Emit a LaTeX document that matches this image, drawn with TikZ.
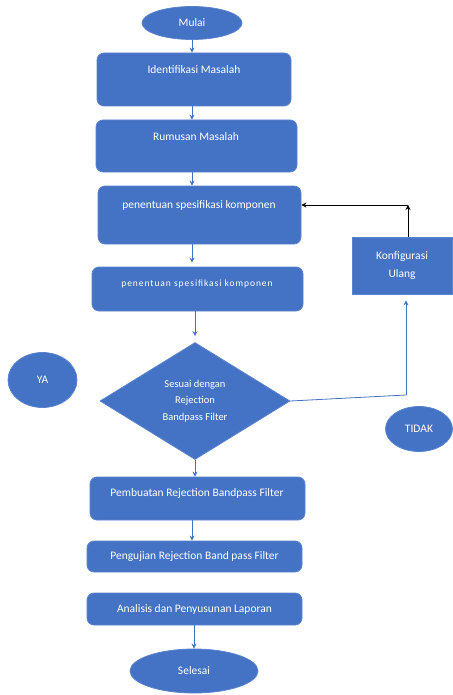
\documentclass[tikz,border=0pt]{standalone}
\usepackage{fontspec}
\setmainfont{Carlito}
\usetikzlibrary{shapes.geometric,arrows.meta}
\definecolor{boxblue}{HTML}{4472C4}
\definecolor{boxedge}{HTML}{5B84CE}
\tikzset{
  procbox/.style={draw=boxedge, fill=boxblue, rounded corners=7pt, line width=0.8pt},
  plainbox/.style={draw=boxedge, fill=boxblue, line width=0.8pt},
  termbox/.style={ellipse, draw=boxedge, fill=boxblue, line width=0.8pt, inner sep=0pt},
  boxtext/.style={text=white, font=\fontsize{11.5}{13}\selectfont},
  flow/.style={draw=boxblue, line width=0.8pt, -{Stealth[length=5pt,width=5pt]}},
  back/.style={draw=black, line width=0.8pt, -{Stealth[length=5pt,width=5pt]}}
}

\begin{document}
\begin{tikzpicture}[x=1pt,y=-1pt]
\useasboundingbox (0,0) rectangle (452,695);
\coordinate (axis) at (192,0);

% start and end
\node[termbox, minimum width=100, minimum height=33, boxtext] (mulai) at (192,23) {Mulai};
\node[termbox, minimum width=128, minimum height=44, boxtext] (selesai) at (194,671) {Selesai};

% process boxes
\node[procbox, minimum width=194, minimum height=53] (idf) at (194,79.5) {};
\node[boxtext] (idf-t) at (194,70) {Identifikasi Masalah};

\node[procbox, minimum width=201, minimum height=52] (rum) at (196.5,146) {};
\node[boxtext] (rum-t) at (196,137) {Rumusan Masalah};

\node[procbox, minimum width=203, minimum height=58] (pen1) at (199.5,215) {};
\node[boxtext] (pen1-t) at (199,205) {penentuan spesifikasi komponen};

\node[procbox, minimum width=211, minimum height=44] (pen2) at (197.5,289) {};
\node[text=white, font=\fontsize{9.5}{12}\addfontfeature{LetterSpace=10}\selectfont] (pen2-t) at (197,284) {penentuan spesifikasi komponen};

% decision
\node[diamond, draw=boxedge, fill=boxblue, line width=0.8pt, inner sep=0pt,
      minimum width=190, minimum height=117, align=center, text=white,
      font=\fontsize{10.5}{16.5}\selectfont] (dia) at (195,401)
      {Sesuai dengan\\Rejection\\Bandpass Filter};

\node[procbox, minimum width=215, minimum height=43] (pemb) at (197.5,498.5) {};
\node[boxtext] (pemb-t) at (197,493) {Pembuatan Rejection Bandpass Filter};

\node[procbox, minimum width=215, minimum height=31, boxtext] (peng) at (194.5,556.5) {Pengujian Rejection Band pass Filter};
\node[procbox, minimum width=215, minimum height=32, boxtext] (anal) at (194.5,609) {Analisis dan Penyusunan Laporan};

% side labels
\node[termbox, minimum width=69, minimum height=55, boxtext] (ya) at (42.5,380) {YA};
\node[termbox, minimum width=67, minimum height=45, boxtext] (tidak) at (419,429) {TIDAK};
\node[plainbox, minimum width=100, minimum height=57, boxtext, align=center,
      font=\fontsize{11.5}{18}\selectfont] (konf) at (402,265.5) {Konfigurasi\\Ulang};

% main flow
\draw[flow] (mulai.south -| axis) -- (idf.north -| axis);
\draw[flow] (idf.south -| axis) -- (rum.north -| axis);
\draw[flow] (rum.south -| axis) -- (pen1.north -| axis);
\draw[flow, shorten >=4pt] (pen1.south -| axis) -- (pen2.north -| axis);
\draw[flow, shorten >=6pt] (pen2.south -| dia.north) -- (dia.north);
\draw[flow] (dia.south) -- (dia.south |- pemb.north);
\draw[flow] (pemb.south -| axis) -- (peng.north -| axis);
\draw[flow] (anal.south -| selesai.north) -- (selesai.north);

% loop back
\coordinate (bend) at (406,395);
\coordinate (turn) at (408,205);
\draw[draw=boxblue, line width=0.8pt] (dia.east) -- (bend);
\draw[flow, shorten >=6pt] (bend) -- (bend |- konf.south);
\draw[back] (konf.north -| turn) -- (turn);
\draw[back] (turn) -- (turn -| pen1.east);
\end{tikzpicture}
\end{document}
